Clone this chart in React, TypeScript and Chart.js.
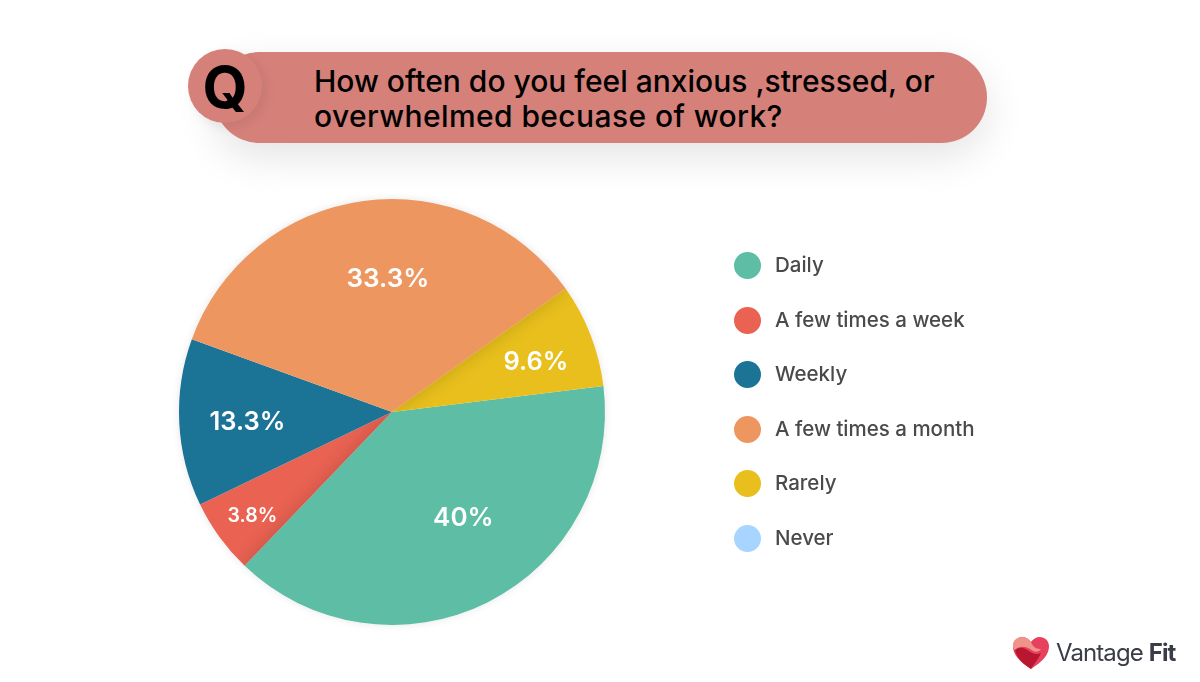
import { useEffect, useRef } from 'react';
import { Chart, registerables } from 'chart.js';

const categories = ['Daily', 'A few times a week', 'Weekly', 'A few times a month', 'Rarely', 'Never'];
// slice sizes as drawn in the picture (they do not quite follow the printed labels)
const sliceSizes = [39.1, 5.7, 12.7, 34.6, 7.9, 0];
const sliceLabels = ['40%', '3.8%', '13.3%', '33.3%', '9.6%', ''];
const labelSizes = [26, 19.5, 25.5, 26, 25.5, 0];
const sliceColors = ['#5dbda5', '#e96252', '#1b7396', '#ee9660', '#e8bf1c', '#a8d5ff'];
// [share of the radius, angle nudge in degrees]
const labelPlacement = [[0.59, -8], [0.81, 0], [0.68, 0], [0.64, 6], [0.72, 1], [0, 0]];
// [slice throwing the shadow, slice receiving it]
const sliceShadows = [[0, 1], [3, 4]];

const startAngle = 83;
const fontFamily = 'Inter, "Noto Sans", sans-serif';

const sliceLabelPlugin = {
  id: 'sliceLabels',
  beforeDatasetsDraw(chart: Chart) {
    // soft halo around the whole pie
    const { ctx } = chart;
    const first = (chart.getDatasetMeta(0).data as any[])[0];
    const { x, y, outerRadius } = first.getProps(['x', 'y', 'outerRadius'], true);
    ctx.save();
    ctx.shadowColor = 'rgba(0,0,0,0.12)';
    ctx.shadowBlur = 10;
    ctx.fillStyle = '#ffffff';
    ctx.beginPath();
    ctx.arc(x, y, outerRadius - 1, 0, Math.PI * 2);
    ctx.fill();
    ctx.restore();
  },
  afterDatasetsDraw(chart: Chart) {
    const { ctx } = chart;
    const arcs = chart.getDatasetMeta(0).data as any[];

    sliceShadows.forEach(([from, to]) => {
      const target = arcs[to].getProps(['x', 'y', 'startAngle', 'endAngle', 'outerRadius'], true);
      ctx.save();
      ctx.beginPath();
      ctx.moveTo(target.x, target.y);
      ctx.arc(target.x, target.y, target.outerRadius, target.startAngle, target.endAngle);
      ctx.closePath();
      ctx.clip();
      ctx.shadowColor = 'rgba(0,0,0,0.16)';
      ctx.shadowBlur = 18;
      arcs[from].draw(ctx);
      ctx.restore();
    });

    arcs.forEach((arc, i) => {
      if (!sliceLabels[i]) return;
      const { x, y, startAngle: a0, endAngle: a1, outerRadius } = arc.getProps(
        ['x', 'y', 'startAngle', 'endAngle', 'outerRadius'],
        true,
      );
      const [share, nudge] = labelPlacement[i];
      const mid = (a0 + a1) / 2 + (nudge * Math.PI) / 180;
      ctx.save();
      ctx.fillStyle = '#ffffff';
      ctx.font = `600 ${labelSizes[i]}px ${fontFamily}`;
      ctx.textAlign = 'center';
      ctx.textBaseline = 'middle';
      ctx.fillText(sliceLabels[i], x + Math.cos(mid) * outerRadius * share, y + Math.sin(mid) * outerRadius * share + 3);
      ctx.restore();
    });
  },
};

function Logo() {
  return (
    <div style={{ position: 'absolute', left: 1012, top: 636, width: 170, height: 36 }}>
      <svg width="38" height="34" viewBox="0 0 38 34" style={{ position: 'absolute', left: 0, top: 0 }}>
        <path d="M19 33C8 26 1 19 1 10.500C1 4.500 5.500 1 10 1c4 0 7 2 9 5 2-3 5-5 9-5 4.500 0 9 3.500 9 9.500C37 19 30 26 19 33z" fill="#e8405f" />
        <path d="M1 10.500C1 4.500 5.500 1 10 1c5 0 8 3 10 7 2 4 5 5 9 5-3 4-7 3-11 0-5-3-11-3-15 1-1-1-2-2-2-3.500z" fill="#f0948a" />
        <path d="M3 14c5-4 10-2 14 1 4 3 8 4 12 2-3 7-8 12-10 16C11 28 5 22 3 14z" fill="#b9172f" />
      </svg>
      <span style={{ position: 'absolute', left: 44, top: 2, font: `400 24px ${fontFamily}`, color: '#3a3d47', whiteSpace: 'nowrap', letterSpacing: -0.9 }}>
        Vantage <b style={{ fontWeight: 700 }}>Fit</b>
      </span>
    </div>
  );
}

export default function App() {
  const chartRef = useRef<HTMLCanvasElement>(null);

  useEffect(() => {
    Chart.register(...registerables);
    const chart = new Chart(chartRef.current!, {
      type: 'pie',
      data: {
        labels: categories,
        datasets: [{ data: sliceSizes, backgroundColor: sliceColors, borderWidth: 0 }],
      },
      options: {
        animation: false,
        responsive: false,
        rotation: startAngle,
        layout: { padding: { left: 179, right: 595, top: 199, bottom: 57 } },
        plugins: { legend: { display: false }, tooltip: { enabled: false } },
      },
      plugins: [sliceLabelPlugin],
    });
    return () => chart.destroy();
  }, []);

  return (
    <div style={{ position: 'fixed', left: 0, top: 0, width: 1200, height: 682, background: '#fff', overflow: 'hidden', fontFamily }}>
      <div style={{ position: 'absolute', left: 214, top: 52, width: 773, height: 91, borderRadius: 46, background: '#d6807a', boxShadow: '0 14px 40px rgba(0,0,0,0.11)' }} />
      <div style={{ position: 'absolute', left: 188, top: 49, width: 74, height: 74, borderRadius: 37, background: '#d6807a', boxShadow: '4px 4px 12px rgba(0,0,0,0.08)', textAlign: 'center', font: `700 58px/76px ${fontFamily}`, color: '#000' }}>
        Q
      </div>
      <div style={{ position: 'absolute', left: 314, top: 64, font: `500 30px/35px ${fontFamily}`, color: '#000', whiteSpace: 'nowrap' }}>
        How often do you feel anxious ,stressed, or
        <br />
        <span style={{ letterSpacing: 0.4 }}>overwhelmed becuase of work?</span>
      </div>
      <canvas ref={chartRef} width={1200} height={682} style={{ position: 'absolute', left: 0, top: 0 }} />
      {categories.map((name, i) => (
        <div key={name} style={{ position: 'absolute', left: 734, top: 252 + i * 54.5, height: 27, whiteSpace: 'nowrap' }}>
          <span style={{ position: 'absolute', left: 0, top: 0, width: 27, height: 27, borderRadius: 14, background: sliceColors[i] }} />
          <span style={{ position: 'absolute', left: 41, top: 0, font: `500 20.5px/26px ${fontFamily}`, color: '#4a4a4a' }}>{name}</span>
        </div>
      ))}
      <Logo />
    </div>
  );
}
